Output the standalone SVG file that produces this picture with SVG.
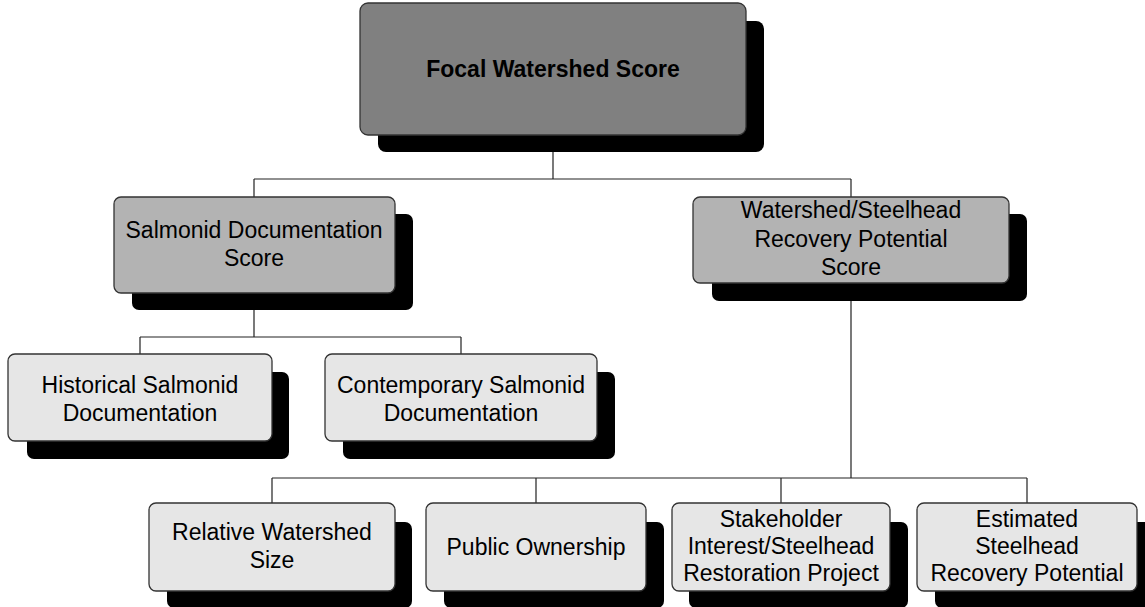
<svg xmlns="http://www.w3.org/2000/svg" width="1145" height="607" viewBox="0 0 1145 607">
<style>
.sh{fill:#000}
.bx{stroke:#333;stroke-width:1.3}
.l1{fill:#808080}
.l2{fill:#b3b3b3}
.l3{fill:#e6e6e6}
.c{fill:none;stroke:#222;stroke-width:1.2}
text{font-family:"Liberation Sans",Arial,sans-serif;font-size:23px;fill:#000;text-anchor:middle}
.b{font-weight:bold}
</style>
<rect width="1145" height="607" fill="#fff"/>
<g id="connectors">
<path class="c" d="M553 152V179M254 179H851M254 179V197M851 179V197"/>
<path class="c" d="M254 310V337M140 337H461M140 337V354M461 337V354"/>
<path class="c" d="M851 301V478M272 478H1027M272 478V503M536 478V503M781 478V503M1027 478V503"/>
</g>
<g id="focal">
<rect class="sh" x="378" y="21" width="386" height="131" rx="8"/>
<rect class="bx l1" x="360" y="3" width="386" height="132" rx="8"/>
<text class="b" x="553" y="77">Focal Watershed Score</text>
</g>
<g id="salmonid">
<rect class="sh" x="132" y="214" width="281" height="96" rx="7"/>
<rect class="bx l2" x="114" y="197" width="281" height="96" rx="7"/>
<text x="254" y="238">Salmonid Documentation</text>
<text x="254" y="266">Score</text>
</g>
<g id="recovery">
<rect class="sh" x="712" y="214" width="315" height="87" rx="7"/>
<rect class="bx l2" x="693" y="197" width="316" height="86" rx="7"/>
<text x="851" y="218">Watershed/Steelhead</text>
<text x="851" y="247">Recovery Potential</text>
<text x="851" y="275">Score</text>
</g>
<g id="historical">
<rect class="sh" x="27" y="372" width="262" height="87" rx="7"/>
<rect class="bx l3" x="8" y="354" width="264" height="87" rx="7"/>
<text x="140" y="393">Historical Salmonid</text>
<text x="140" y="421">Documentation</text>
</g>
<g id="contemporary">
<rect class="sh" x="343" y="372" width="272" height="87" rx="7"/>
<rect class="bx l3" x="325" y="354" width="272" height="87" rx="7"/>
<text x="461" y="393">Contemporary Salmonid</text>
<text x="461" y="421">Documentation</text>
</g>
<g id="relative">
<rect class="sh" x="167" y="522" width="245" height="86" rx="7"/>
<rect class="bx l3" x="149" y="503" width="246" height="88" rx="7"/>
<text x="272" y="540">Relative Watershed</text>
<text x="272" y="568">Size</text>
</g>
<g id="public">
<rect class="sh" x="444" y="522" width="220" height="86" rx="7"/>
<rect class="bx l3" x="426" y="503" width="220" height="88" rx="7"/>
<text x="536" y="555">Public Ownership</text>
</g>
<g id="stakeholder">
<rect class="sh" x="689" y="522" width="219" height="86" rx="7"/>
<rect class="bx l3" x="672" y="503" width="218" height="88" rx="7"/>
<text x="781" y="527">Stakeholder</text>
<text x="781" y="554">Interest/Steelhead</text>
<text x="781" y="581">Restoration Project</text>
</g>
<g id="estimated">
<rect class="sh" x="935" y="522" width="220" height="86" rx="7"/>
<rect class="bx l3" x="917" y="503" width="220" height="88" rx="7"/>
<text x="1027" y="527">Estimated</text>
<text x="1027" y="554">Steelhead</text>
<text x="1027" y="581">Recovery Potential</text>
</g>
</svg>
